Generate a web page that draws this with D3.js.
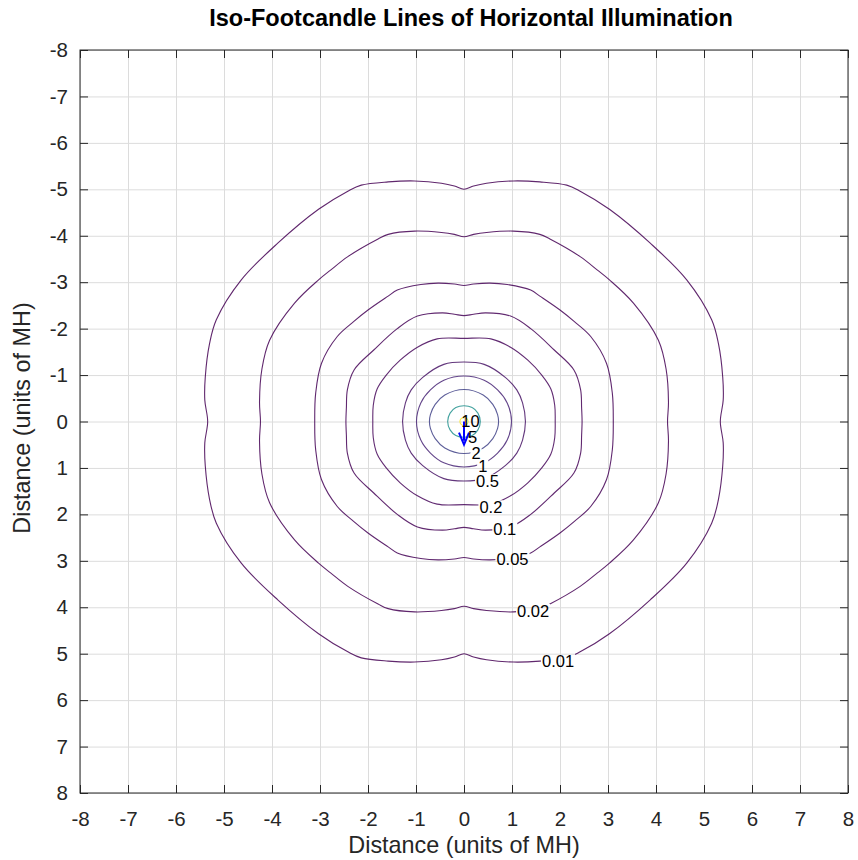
<!DOCTYPE html>
<html lang="en">
<head>
<meta charset="UTF-8">
<title>Iso-Footcandle Lines of Horizontal Illumination</title>
<script src="https://d3js.org/d3.v7.min.js"></script>
<style>
  body { margin: 0; background: #fff; }
  svg { display: block; font-family: "Liberation Sans", Arial, Helvetica, sans-serif; }
</style>
</head>
<body>
<svg id="chart" width="858" height="860"></svg>
<script>
// iso-footcandle levels
var levels = [0.01, 0.02, 0.05, 0.1, 0.2, 0.5, 1, 2, 5, 10];
var levelText = ["0.01", "0.02", "0.05", "0.1", "0.2", "0.5", "1", "2", "5", "10"];

// one quarter of each line (upper right), from the top (x=0) round to the side (y=0), units of MH
var iso001 = [[0,-5.0],[0.2,-5.07],[0.47,-5.13],[1.03,-5.18],[1.58,-5.16],[2.14,-5.09],[2.42,-4.96],[3.03,-4.57],[3.88,-3.84],[4.64,-3.05],[5.16,-2.19],[5.30,-1.68],[5.39,-0.96],[5.40,-0.46],[5.34,0]];
var iso002 = [[0,-3.98],[0.2,-4.03],[0.47,-4.07],[1.03,-4.1],[1.58,-4.03],[1.79,-3.93],[2.42,-3.55],[2.78,-3.26],[3.03,-3.05],[3.53,-2.55],[4.05,-1.75],[4.21,-1.13],[4.26,-0.42],[4.24,0]];
var iso005 = [[0,-2.93],[0.2,-2.96],[0.54,-2.98],[0.9,-2.95],[1.39,-2.83],[1.58,-2.7],[2.0,-2.40],[2.3,-2.15],[2.64,-1.83],[2.97,-1.25],[3.09,-0.61],[3.11,0]];
var iso01 = [[0,-2.28],[0.2,-2.31],[0.45,-2.34],[0.97,-2.27],[1.39,-2.0],[1.88,-1.54],[2.29,-1.11],[2.43,-0.68],[2.45,-0.3],[2.46,0]];
var iso02 = [[0,-1.79],[0.56,-1.78],[0.97,-1.6],[1.33,-1.32],[1.62,-1.0],[1.81,-0.7],[1.89,-0.35],[1.9,0]];
var iso05 = [[0,-1.28],[0.42,-1.23],[0.86,-0.95],[1.1,-0.68],[1.22,-0.4],[1.28,0]];
var iso1 = [[0,-0.98],[0.42,-0.89],[0.7,-0.68],[0.9,-0.4],[0.99,0]];
var iso2 = [[0,-0.69],[0.4,-0.57],[0.6,-0.37],[0.7,-0.15],[0.72,0]];
var iso5 = [[0,-0.34],[0.17,-0.3],[0.29,-0.18],[0.34,0]];
var iso10 = [[0,-0.085],[0.06,-0.06],[0.085,0]];
var isoQuarters = [iso001, iso002, iso005, iso01, iso02, iso05, iso1, iso2, iso5, iso10];

// where the level labels sit (units of MH)
var labelX = [1.96, 1.44, 1.01, 0.85, 0.56, 0.49, 0.39, 0.25, 0.18, 0.135];
var labelY = [5.16, 4.08, 2.96, 2.32, 1.85, 1.29, 0.96, 0.68, 0.33, -0.01];

// luminaire aiming arrow
var arrowFrom = [0, 0];
var arrowTo = [0, 0.5];

var ticks = [-8, -7, -6, -5, -4, -3, -2, -1, 0, 1, 2, 3, 4, 5, 6, 7, 8];

var plotLeft = 80, plotRight = 848, plotTop = 50, plotBottom = 793;
var svg = d3.select("#chart");

var x = d3.scaleLinear().domain([-8, 8]).range([plotLeft, plotRight]);
var y = d3.scaleLinear().domain([-8, 8]).range([plotTop, plotBottom]);
var color = d3.scaleSequential(d3.interpolateViridis).domain([levels[0], levels[levels.length - 1]]);
var fmt = function (d) { return String(d); };

// grid
svg.append("g").attr("transform", "translate(0," + plotBottom + ")")
    .call(d3.axisBottom(x).tickValues(ticks).tickSize(-(plotBottom - plotTop)).tickFormat(""))
    .call(function (g) { g.select(".domain").remove(); g.selectAll("line").attr("stroke", "#dcdcdc"); });
svg.append("g").attr("transform", "translate(" + plotLeft + ",0)")
    .call(d3.axisLeft(y).tickValues(ticks).tickSize(-(plotRight - plotLeft)).tickFormat(""))
    .call(function (g) { g.select(".domain").remove(); g.selectAll("line").attr("stroke", "#dcdcdc"); });

// mirror a quarter into the whole closed line
function fullRing(q) {
    var pts = q.slice();
    q.slice(0, -1).reverse().forEach(function (p) { pts.push([p[0], -p[1]]); });
    q.slice(1).forEach(function (p) { pts.push([-p[0], -p[1]]); });
    q.slice(1, -1).reverse().forEach(function (p) { pts.push([-p[0], p[1]]); });
    return pts;
}

var line = d3.line()
    .x(function (d) { return x(d[0]); })
    .y(function (d) { return y(d[1]); })
    .curve(d3.curveCatmullRomClosed.alpha(0.5));

var defs = svg.append("defs");
var mask = defs.append("mask").attr("id", "lblmask").attr("maskUnits", "userSpaceOnUse")
    .attr("x", 0).attr("y", 0).attr("width", 858).attr("height", 860);
mask.append("rect").attr("width", 858).attr("height", 860).attr("fill", "white");

var contours = svg.append("g").attr("mask", "url(#lblmask)");
contours.selectAll("path").data(isoQuarters).enter().append("path")
    .attr("d", function (q) { return line(fullRing(q)); })
    .attr("fill", "none")
    .attr("stroke", function (q, i) { return color(levels[i]); })
    .attr("stroke-opacity", 0.85)
    .attr("stroke-width", 1.1);

// arrow
svg.append("line")
    .attr("x1", x(arrowFrom[0])).attr("y1", y(arrowFrom[1]))
    .attr("x2", x(arrowTo[0])).attr("y2", y(arrowTo[1]) - 4)
    .attr("stroke", "#0000ff").attr("stroke-width", 2);
var tipX = x(arrowTo[0]), tipY = y(arrowTo[1]);
svg.append("path")
    .attr("d", "M" + (tipX - 5) + "," + (tipY - 12) + "L" + tipX + "," + tipY + "L" + (tipX + 5) + "," + (tipY - 12))
    .attr("fill", "none").attr("stroke", "#0000ff").attr("stroke-width", 2);

// level labels
var labels = svg.append("g").selectAll("text").data(levelText).enter().append("text")
    .attr("x", function (d, i) { return x(labelX[i]); })
    .attr("y", function (d, i) { return y(labelY[i]); })
    .attr("dy", "0.36em")
    .attr("text-anchor", "middle")
    .attr("font-size", 16.5)
    .attr("fill", "#000")
    .text(function (d) { return d; });

// cut the lines under the labels (not the innermost ones)
labels.each(function (d, i) {
    if (i >= 8) return;
    var b = this.getBBox();
    mask.append("rect").attr("x", b.x - 1).attr("y", b.y + 2)
        .attr("width", b.width + 2).attr("height", b.height - 4).attr("fill", "black");
});

// axes, ticks inside
svg.append("g").attr("transform", "translate(0," + plotBottom + ")")
    .call(d3.axisBottom(x).tickValues(ticks).tickSize(-8).tickPadding(18).tickFormat(fmt))
    .call(styleAxis);
svg.append("g").attr("transform", "translate(0," + plotTop + ")")
    .call(d3.axisTop(x).tickValues(ticks).tickSize(-8).tickFormat(""))
    .call(styleAxis);
svg.append("g").attr("transform", "translate(" + plotLeft + ",0)")
    .call(d3.axisLeft(y).tickValues(ticks).tickSize(-8).tickPadding(12).tickFormat(fmt))
    .call(styleAxis);
svg.append("g").attr("transform", "translate(" + plotRight + ",0)")
    .call(d3.axisRight(y).tickValues(ticks).tickSize(-8).tickFormat(""))
    .call(styleAxis);

function styleAxis(g) {
    g.select(".domain").remove();
    g.selectAll("line").attr("stroke", "#262626");
    g.selectAll("text").attr("font-size", 20.5).attr("fill", "#262626").attr("font-family", null);
}

svg.append("rect").attr("x", plotLeft).attr("y", plotTop)
    .attr("width", plotRight - plotLeft).attr("height", plotBottom - plotTop)
    .attr("fill", "none").attr("stroke", "#262626").attr("stroke-width", 1);

// titles
svg.append("text").attr("x", 471).attr("y", 26).attr("text-anchor", "middle")
    .attr("font-size", 23.5).attr("font-weight", "bold").attr("fill", "#000")
    .text("Iso-Footcandle Lines of Horizontal Illumination");
svg.append("text").attr("x", (plotLeft + plotRight) / 2).attr("y", 853).attr("text-anchor", "middle")
    .attr("font-size", 23.4).attr("fill", "#262626")
    .text("Distance (units of MH)");
svg.append("text").attr("transform", "translate(30,418) rotate(-90)")
    .attr("text-anchor", "middle")
    .attr("font-size", 23.4).attr("fill", "#262626")
    .text("Distance (units of MH)");
</script>
</body>
</html>
